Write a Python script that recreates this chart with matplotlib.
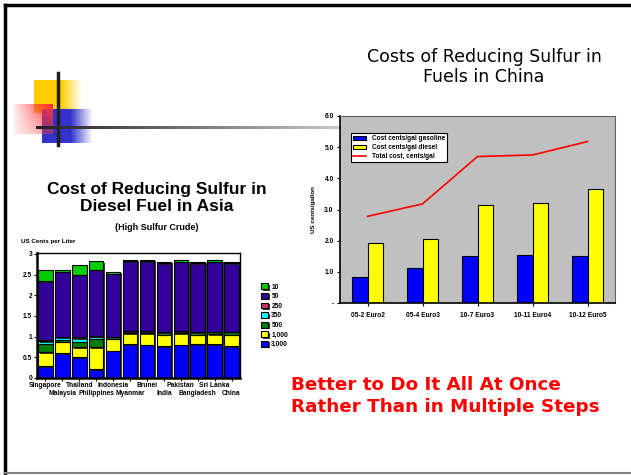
import numpy as np
import matplotlib
matplotlib.use("Agg")
import matplotlib.pyplot as plt
import matplotlib.patheffects as pe
import matplotlib.transforms as mtransforms
from matplotlib.colors import LinearSegmentedColormap

# ---- Asia: cost of reducing sulfur in diesel (US cents per liter) ----
countries = ['Singapore', 'Malaysia', 'Thailand', 'Philippines', 'Indonesia', 'Myanmar',
             'Brunei', 'India', 'Pakistan', 'Bangladesh', 'Sri Lanka', 'China']
ppm_3000 = [0.28, 0.60, 0.50, 0.21, 0.66, 0.81, 0.80, 0.77, 0.80, 0.81, 0.81, 0.77]
ppm_1000 = [0.34, 0.28, 0.24, 0.53, 0.28, 0.27, 0.28, 0.27, 0.28, 0.24, 0.25, 0.28]
ppm_500 = [0.21, 0.04, 0.14, 0.20, 0.05, 0.05, 0.05, 0.06, 0.05, 0.05, 0.06, 0.06]
ppm_350 = [0.06, 0.06, 0.08, 0.05, 0.00, 0.00, 0.00, 0.00, 0.00, 0.00, 0.00, 0.00]
ppm_250 = [0.03, 0.02, 0.02, 0.02, 0.01, 0.00, 0.00, 0.00, 0.00, 0.00, 0.00, 0.00]
ppm_50 = [1.42, 1.56, 1.51, 1.61, 1.52, 1.69, 1.69, 1.67, 1.68, 1.67, 1.68, 1.66]
ppm_10 = [0.28, 0.05, 0.25, 0.20, 0.05, 0.03, 0.03, 0.04, 0.03, 0.03, 0.04, 0.03]

# ---- China: costs per step (US cents/gallon) ----
steps = ['05-2 Euro2', '05-4 Euro3', '10-7 Euro3', '10-11 Euro4', '10-12 Euro5']
gasoline = [0.85, 1.12, 1.52, 1.55, 1.52]
diesel = [1.93, 2.05, 3.15, 3.20, 3.65]
total = [2.78, 3.18, 4.70, 4.75, 5.18]

W, H = 631, 475
fig = plt.figure(figsize=(W / 100, H / 100), dpi=100)
fig.patch.set_facecolor('white')

# full-figure overlay in pixel units for the slide decoration
deco = fig.add_axes([0, 0, 1, 1], zorder=0)
deco.set_xlim(0, W)
deco.set_ylim(H, 0)
deco.axis('off')

# slide frame
deco.plot([5, 5], [5, 473], color='black', lw=2.5)
deco.plot([5, W], [5, 5], color='black', lw=2.5)
deco.plot([5, W], [473, 473], color='#808080', lw=1.5)

def fade_box(ax, x0, x1, y0, y1, rgb, kind, z):
    n = 64
    t = np.linspace(0, 1, n)
    xx, yy = np.meshgrid(t, t)
    if kind == 'right':
        alpha = np.clip(2.3 - 2.3 * xx, 0, 1)
    else:  # strongest at top right, fading down and left
        alpha = np.clip(0.1 + 1.0 * xx * (1 - 0.4 * yy), 0, 1) * (1 - 0.3 * yy)
    img = np.zeros((n, n, 4))
    img[..., :3] = rgb
    img[..., 3] = alpha
    ax.imshow(img, extent=(x0, x1, y1, y0), aspect='auto', interpolation='bilinear', zorder=z)

fade_box(deco, 34, 82, 80, 113, (1.0, 0.8, 0.0), 'right', 1)
fade_box(deco, 42, 93, 109, 143, (0.2, 0.2, 0.8), 'right', 1)
fade_box(deco, 14, 53, 104, 134, (1.0, 0.2, 0.2), 'diag', 2)
deco.plot([58, 58], [73, 145], color='#202020', lw=2.5, zorder=3)
grad = LinearSegmentedColormap.from_list('g', ['#202020', '#c8c8c8'])
deco.imshow(np.linspace(0, 1, 256)[None, :], cmap=grad, extent=(36, 340, 129.2, 126.8),
            aspect='auto', interpolation='bilinear', zorder=3)

# titles and message
fig.text(157 / W, 1 - 198 / H, 'Cost of Reducing Sulfur in\nDiesel Fuel in Asia',
         ha='center', va='center', fontsize=12.5, fontweight='bold',
         family='Liberation Sans', linespacing=1.1)
fig.text(157 / W, 1 - 227 / H, '(High Sulfur Crude)', ha='center', va='center',
         fontsize=6.5, fontweight='bold', family='Liberation Sans')
fig.text(484 / W, 1 - 67 / H, 'Costs of Reducing Sulfur in\nFuels in China',
         ha='center', va='center', fontsize=12.5, family='DejaVu Sans', linespacing=1.15)
fig.text(291 / W, 1 - 396 / H, 'Better to Do It All At Once\nRather Than in Multiple Steps',
         ha='left', va='center', fontsize=13.2, fontweight='bold', color='#ff0000',
         family='DejaVu Sans', linespacing=1.25)

# ---- left chart: stacked bars ----
ax1 = fig.add_axes([37 / W, 1 - 378 / H, 203 / W, 125 / H], zorder=2)
x = np.arange(len(countries))
layers = [('3,000', ppm_3000, '#0000ff'), ('1,000', ppm_1000, '#ffff00'),
          ('500', ppm_500, '#008000'), ('350', ppm_350, '#00ffff'),
          ('250', ppm_250, '#cc3366'), ('50', ppm_50, '#330099'),
          ('10', ppm_10, '#00cc00')]
bottom = np.zeros(len(countries))
handles = {}
shadow = [pe.withSimplePatchShadow(offset=(1.2, -1.0), shadow_rgbFace='#202020', alpha=0.9)]
for name, vals, col in layers:
    vals = np.array(vals)
    b = ax1.bar(x, vals, 0.86, bottom=bottom, color=col, edgecolor='black', lw=0.8,
                label=name, path_effects=shadow)
    handles[name] = b
    bottom += vals
ax1.set_xlim(-0.5, len(countries) - 0.5)
ax1.set_ylim(0, 3.02)
ax1.set_yticks(np.arange(0, 3.01, 0.5))
ax1.set_yticklabels(['0', '0.5', '1', '1.5', '2', '2.5', '3'])
ax1.set_xticks(x)
ax1.set_xticklabels([])
ax1.tick_params(axis='both', labelsize=4.8, length=2, width=0.8, pad=1.5)
for lab in ax1.get_yticklabels():
    lab.set_fontweight('bold')
    lab.set_family('Liberation Sans')
# country names staggered over two rows
lab_tr = mtransforms.blended_transform_factory(ax1.transData, ax1.transAxes)
for i, c in enumerate(countries):
    ax1.text(i, -0.03 if i % 2 == 0 else -0.095, c, transform=lab_tr, ha='center', va='top',
             fontsize=4.8, fontweight='bold', family='Liberation Sans')
for s in ax1.spines.values():
    s.set_linewidth(1.0)
ax1.spines['left'].set_linewidth(1.8)
ax1.spines['bottom'].set_linewidth(1.8)
ax1.text(-0.08, 1.07, 'US Cents per Liter', transform=ax1.transAxes, fontsize=4.5,
         fontweight='bold', family='Liberation Sans', ha='left', va='bottom')
order = ['10', '50', '250', '350', '500', '1,000', '3,000']
fig.legend([handles[k] for k in order], order, loc='upper left',
           bbox_to_anchor=(258 / W, 1 - 280 / H), frameon=False,
           prop={'size': 4.8, 'weight': 'bold', 'family': 'Liberation Sans'},
           handlelength=1.0, handleheight=1.0, handletextpad=0.5, labelspacing=0.35,
           borderpad=0)

# ---- right chart: grouped bars with total line ----
ax2 = fig.add_axes([340 / W, 1 - 303 / H, 275 / W, 187 / H], zorder=2)
ax2.set_facecolor('#c0c0c0')
xs = np.arange(len(steps))
bw = 0.29
h1 = ax2.bar(xs - bw / 2, gasoline, bw, color='#0000ff', edgecolor='black', lw=0.8)
h2 = ax2.bar(xs + bw / 2, diesel, bw, color='#ffff00', edgecolor='black', lw=0.8)
h3, = ax2.plot(xs, total, color='#ff0000', lw=1.2)
ax2.set_xlim(-0.5, len(steps) - 0.5)
ax2.set_ylim(0, 6)
ax2.set_yticks(np.arange(0, 6.1, 1))
ax2.set_yticklabels(['-', '1.0', '2.0', '3.0', '4.0', '5.0', '6.0'])
ax2.set_xticks(xs)
ax2.set_xticklabels(steps)
ax2.tick_params(axis='y', labelsize=4.8, length=2.5, width=0.8, pad=2)
ax2.tick_params(axis='x', labelsize=4.8, length=2.5, width=0.8, pad=4)
for lab in ax2.get_xticklabels() + ax2.get_yticklabels():
    lab.set_fontweight('bold')
    lab.set_family('Liberation Sans')
for s in ax2.spines.values():
    s.set_color('#606060')
    s.set_linewidth(0.8)
ax2.spines['left'].set_color('black')
ax2.spines['bottom'].set_color('black')
ax2.spines['left'].set_linewidth(1.2)
ax2.spines['bottom'].set_linewidth(1.2)
ax2.set_ylabel('US cents/gallon', fontsize=4.5, fontweight='bold',
               family='Liberation Sans', labelpad=6)
leg2 = ax2.legend([h1, h2, h3],
                  ['Cost cents/gal gasoline', 'Cost cents/gal diesel', 'Total cost, cents/gal'],
                  loc='upper left', bbox_to_anchor=(0.04, 0.91), fancybox=False,
                  edgecolor='black', framealpha=1,
                  prop={'size': 4.7, 'weight': 'bold', 'family': 'Liberation Sans'},
                  handlelength=2.0, handleheight=0.7, labelspacing=0.3,
                  borderpad=0.35, borderaxespad=0)
leg2.get_frame().set_linewidth(0.8)

fig.savefig('out.png', dpi=100, facecolor='white')
